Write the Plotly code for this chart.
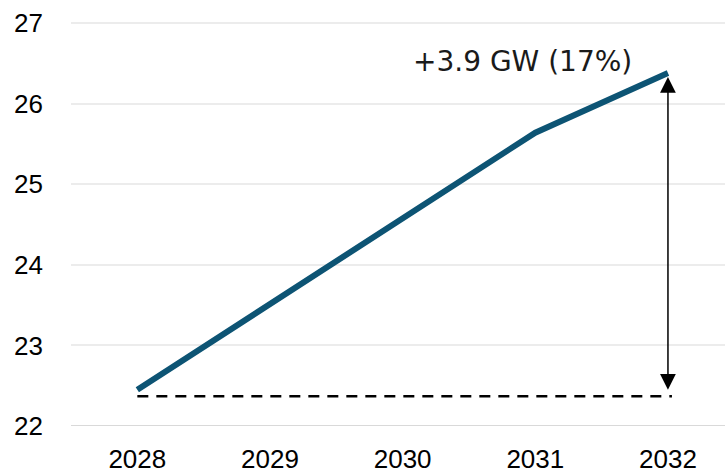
import plotly.graph_objects as go

# Installed capacity by year (GW)
years = [2028, 2029, 2030, 2031, 2032]
capacity_gw = [22.45, 23.52, 24.59, 25.64, 26.38]
baseline_gw = 22.37          # dashed reference level
change_label = "+3.9 GW (17%)"

y_ticks = [22, 23, 24, 25, 26, 27]

fig = go.Figure()

fig.add_trace(go.Scatter(
    x=years, y=capacity_gw, mode="lines",
    line=dict(color="#0d5474", width=6),
    hoverinfo="skip", showlegend=False,
))

# Dashed baseline from first to last year
fig.add_shape(
    type="line", xref="x", yref="y",
    x0=years[0], x1=years[-1] + 0.03, y0=baseline_gw, y1=baseline_gw,
    line=dict(color="#000000", width=2.5, dash="11px,8px"),
)

# Double-headed arrow spanning the increase
fig.add_annotation(
    x=years[-1], y=capacity_gw[-1], ax=years[-1], ay=baseline_gw,
    xref="x", yref="y", axref="x", ayref="y",
    showarrow=True, arrowhead=2, startarrowhead=2, arrowside="end+start",
    arrowwidth=1.5, arrowsize=2.1, startarrowsize=2.1,
    standoff=4, startstandoff=5, arrowcolor="#000000", text="",
)

fig.add_annotation(
    x=2030.9, y=26.52, xref="x", yref="y",
    text=change_label, showarrow=False,
    xanchor="center", yanchor="middle",
    font=dict(family="DejaVu Sans", size=28, color="#1a1a1a"),
)

fig.update_layout(
    width=725, height=474,
    margin=dict(l=71, r=0, t=15, b=48),
    paper_bgcolor="white", plot_bgcolor="white",
    font=dict(family="Liberation Sans", size=26, color="#000000"),
    xaxis=dict(
        range=[2027.5, 2032.43], tickvals=years,
        ticktext=[str(y) for y in years],
        showgrid=False, zeroline=False, showline=False,
        ticks="", ticklabelstandoff=15, automargin=False,
        tickfont=dict(size=26),
    ),
    yaxis=dict(
        range=[22, 27.1], tickvals=y_ticks,
        showgrid=True, gridcolor="#ececec", gridwidth=1.5,
        zeroline=False, showline=False, ticks="",
        ticklabelstandoff=27, automargin=False, tickfont=dict(size=26),
    ),
)

# Slightly darker bottom axis line at the 22 level
fig.add_shape(
    type="line", xref="paper", yref="y", x0=0, x1=1, y0=y_ticks[0], y1=y_ticks[0],
    line=dict(color="#d9d9d9", width=2), layer="below",
)

fig.write_html("out.html")
